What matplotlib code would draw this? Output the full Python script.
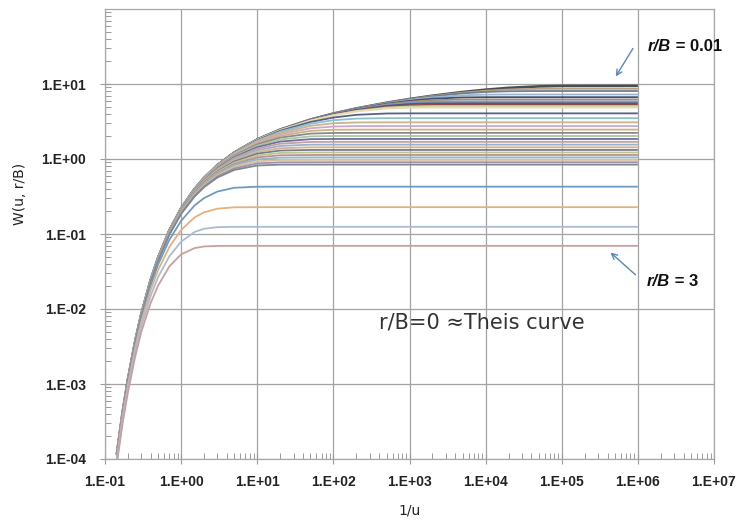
import numpy as np
import matplotlib
matplotlib.use("Agg")
import matplotlib.pyplot as plt
from matplotlib.ticker import FuncFormatter, LogLocator, NullFormatter

# Hantush leaky-aquifer well function W(u, r/B), tabulated against 1/u
inv_u = [0.143, 0.17, 0.2, 0.25, 0.3, 0.4, 0.5, 0.7, 1, 1.5, 2, 3, 5, 10, 20, 50, 100,
         200, 500, 1e3, 2e3, 5e3, 1e4, 2e4, 5e4, 1e5, 1e6]

r_over_b = [0.01, 0.015, 0.02, 0.03, 0.04, 0.05, 0.06, 0.07, 0.08, 0.09, 0.1,
            0.15, 0.2, 0.25, 0.3, 0.35, 0.4, 0.45, 0.5, 0.55, 0.6, 0.65, 0.7,
            0.75, 0.8, 0.85, 0.9, 0.95, 1.0, 1.5, 2.0, 2.5, 3.0]

w_table = [
    [1.155e-4, 4.14e-4, 1.148e-3, 3.779e-3, 8.60e-3, 0.02491, 0.04890, 0.1113, 0.2194, 0.3985, 0.5598, 0.8290, 1.2227, 1.8229, 2.4679, 3.354, 4.036, 4.721, 5.627, 6.306, 6.975, 7.819, 8.398, 8.883, 9.296, 9.418, 9.4425],
    [1.155e-4, 4.14e-4, 1.148e-3, 3.779e-3, 8.60e-3, 0.02491, 0.04890, 0.1113, 0.2194, 0.3985, 0.5598, 0.8290, 1.2227, 1.8227, 2.4670, 3.352, 4.033, 4.715, 5.610, 6.276, 6.915, 7.678, 8.140, 8.453, 8.615, 8.631, 8.632],
    [1.155e-4, 4.14e-4, 1.148e-3, 3.779e-3, 8.60e-3, 0.02491, 0.04890, 0.1113, 0.2194, 0.3985, 0.5597, 0.8288, 1.2224, 1.8222, 2.4663, 3.350, 4.028, 4.707, 5.591, 6.235, 6.834, 7.497, 7.838, 8.008, 8.056, 8.057, 8.057],
    [1.155e-4, 4.14e-4, 1.148e-3, 3.779e-3, 8.60e-3, 0.02491, 0.04889, 0.1113, 0.2193, 0.3984, 0.5596, 0.8286, 1.2220, 1.8213, 2.4640, 3.344, 4.017, 4.683, 5.532, 6.120, 6.622, 7.068, 7.212, 7.245, 7.247, 7.247, 7.247],
    [1.155e-4, 4.14e-4, 1.148e-3, 3.779e-3, 8.60e-3, 0.02490, 0.04888, 0.1113, 0.2193, 0.3983, 0.5594, 0.8285, 1.2216, 1.8200, 2.4613, 3.336, 4.000, 4.650, 5.452, 5.971, 6.363, 6.624, 6.669, 6.673, 6.673, 6.673, 6.673],
    [1.155e-4, 4.14e-4, 1.148e-3, 3.778e-3, 8.60e-3, 0.02490, 0.04887, 0.1112, 0.2193, 0.3982, 0.5594, 0.8282, 1.2209, 1.8184, 2.4576, 3.326, 3.980, 4.609, 5.354, 5.796, 6.082, 6.217, 6.228, 6.2285, 6.2285, 6.2285, 6.2285],
    [1.155e-4, 4.14e-4, 1.148e-3, 3.777e-3, 8.60e-3, 0.02490, 0.04886, 0.1112, 0.2192, 0.3981, 0.5592, 0.8278, 1.2201, 1.8164, 2.4530, 3.314, 3.955, 4.559, 5.241, 5.606, 5.801, 5.864, 5.866, 5.866, 5.866, 5.866, 5.866],
    [1.155e-4, 4.14e-4, 1.148e-3, 3.777e-3, 8.59e-3, 0.02489, 0.04885, 0.1112, 0.2192, 0.3980, 0.5590, 0.8274, 1.2192, 1.8141, 2.4477, 3.300, 3.925, 4.502, 5.117, 5.407, 5.533, 5.559, 5.5596, 5.5596, 5.5596, 5.5596, 5.5596],
    [1.155e-4, 4.14e-4, 1.148e-3, 3.777e-3, 8.59e-3, 0.02489, 0.04884, 0.1111, 0.2191, 0.3979, 0.5588, 0.8269, 1.2181, 1.8114, 2.4415, 3.283, 3.892, 4.439, 4.985, 5.209, 5.285, 5.295, 5.295, 5.295, 5.295, 5.295, 5.295],
    [1.155e-4, 4.14e-4, 1.148e-3, 3.777e-3, 8.59e-3, 0.02489, 0.04883, 0.1111, 0.2191, 0.3977, 0.5585, 0.8263, 1.2169, 1.8083, 2.4346, 3.265, 3.855, 4.370, 4.848, 5.015, 5.058, 5.062, 5.062, 5.062, 5.062, 5.062, 5.062],
    [1.155e-4, 4.13e-4, 1.148e-3, 3.777e-3, 8.59e-3, 0.02489, 0.04885, 0.1112, 0.2190, 0.3976, 0.5582, 0.8257, 1.2155, 1.8049, 2.4268, 3.244, 3.815, 4.296, 4.708, 4.829, 4.853, 4.854, 4.854, 4.854, 4.854, 4.854, 4.854],
    [1.154e-4, 4.13e-4, 1.147e-3, 3.774e-3, 8.59e-3, 0.02487, 0.04879, 0.1110, 0.2186, 0.3964, 0.5561, 0.8216, 1.2066, 1.7827, 2.3779, 3.116, 3.571, 3.882, 4.044, 4.0595, 4.060, 4.060, 4.060, 4.060, 4.060, 4.060, 4.060],
    [1.153e-4, 4.12e-4, 1.146e-3, 3.771e-3, 8.58e-3, 0.02483, 0.04871, 0.1107, 0.2179, 0.3948, 0.5533, 0.8159, 1.1943, 1.7521, 2.3111, 2.952, 3.288, 3.457, 3.504, 3.505, 3.505, 3.505, 3.505, 3.505, 3.505, 3.505, 3.505],
    [1.153e-4, 4.12e-4, 1.145e-3, 3.767e-3, 8.57e-3, 0.02479, 0.04861, 0.1104, 0.2171, 0.3927, 0.5497, 0.8086, 1.1786, 1.7153, 2.2299, 2.766, 2.993, 3.072, 3.083, 3.083, 3.083, 3.083, 3.083, 3.083, 3.083, 3.083, 3.083],
    [1.152e-4, 4.12e-4, 1.144e-3, 3.761e-3, 8.55e-3, 0.02473, 0.04848, 0.1100, 0.2161, 0.3902, 0.5453, 0.7998, 1.1597, 1.6707, 2.1371, 2.569, 2.710, 2.743, 2.745, 2.745, 2.745, 2.745, 2.745, 2.745, 2.745, 2.745, 2.745],
    [1.150e-4, 4.11e-4, 1.142e-3, 3.755e-3, 8.54e-3, 0.02467, 0.04833, 0.1096, 0.2149, 0.3873, 0.5402, 0.7895, 1.1378, 1.6202, 2.0353, 2.371, 2.453, 2.465, 2.465, 2.465, 2.465, 2.465, 2.465, 2.465, 2.465, 2.465, 2.465],
    [1.149e-4, 4.11e-4, 1.140e-3, 3.747e-3, 8.52e-3, 0.02460, 0.04815, 0.1091, 0.2135, 0.3839, 0.5343, 0.7778, 1.1130, 1.5646, 1.9284, 2.181, 2.225, 2.229, 2.229, 2.229, 2.229, 2.229, 2.229, 2.229, 2.229, 2.229, 2.229],
    [1.148e-4, 4.10e-4, 1.138e-3, 3.739e-3, 8.49e-3, 0.02451, 0.04796, 0.1085, 0.2120, 0.3801, 0.5277, 0.7648, 1.0886, 1.5050, 1.8182, 2.002, 2.025, 2.026, 2.026, 2.026, 2.026, 2.026, 2.026, 2.026, 2.026, 2.026, 2.026],
    [1.146e-4, 4.09e-4, 1.136e-3, 3.729e-3, 8.47e-3, 0.02442, 0.04774, 0.1078, 0.2103, 0.3759, 0.5205, 0.7504, 1.0601, 1.4417, 1.7075, 1.838, 1.8485, 1.849, 1.849, 1.849, 1.849, 1.849, 1.849, 1.849, 1.849, 1.849, 1.849],
    [1.144e-4, 4.08e-4, 1.133e-3, 3.719e-3, 8.44e-3, 0.02432, 0.04750, 0.1071, 0.2084, 0.3714, 0.5126, 0.7349, 1.0292, 1.3771, 1.5984, 1.688, 1.693, 1.693, 1.693, 1.693, 1.693, 1.693, 1.693, 1.693, 1.693, 1.693, 1.693],
    [1.142e-4, 4.08e-4, 1.130e-3, 3.708e-3, 8.41e-3, 0.02421, 0.04724, 0.1063, 0.2064, 0.3664, 0.5041, 0.7183, 0.9969, 1.3115, 1.4927, 1.553, 1.555, 1.555, 1.555, 1.555, 1.555, 1.555, 1.555, 1.555, 1.555, 1.555, 1.555],
    [1.139e-4, 4.07e-4, 1.127e-3, 3.695e-3, 8.38e-3, 0.02409, 0.04696, 0.1055, 0.2043, 0.3611, 0.4949, 0.7006, 0.9623, 1.2450, 1.3913, 1.431, 1.432, 1.432, 1.432, 1.432, 1.432, 1.432, 1.432, 1.432, 1.432, 1.432, 1.432],
    [1.137e-4, 4.06e-4, 1.124e-3, 3.682e-3, 8.35e-3, 0.02396, 0.04665, 0.1046, 0.2019, 0.3555, 0.4853, 0.6840, 0.9285, 1.1790, 1.2954, 1.3207, 1.321, 1.321, 1.321, 1.321, 1.321, 1.321, 1.321, 1.321, 1.321, 1.321, 1.321],
    [1.134e-4, 4.04e-4, 1.120e-3, 3.668e-3, 8.31e-3, 0.02382, 0.04633, 0.1036, 0.1995, 0.3495, 0.4751, 0.6681, 0.8935, 1.1137, 1.2052, 1.2211, 1.2212, 1.2212, 1.2212, 1.2212, 1.2212, 1.2212, 1.2212, 1.2212, 1.2212, 1.2212, 1.2212],
    [1.132e-4, 4.03e-4, 1.116e-3, 3.653e-3, 8.27e-3, 0.02367, 0.04599, 0.1026, 0.1969, 0.3433, 0.4645, 0.6480, 0.8578, 1.0505, 1.1210, 1.1307, 1.1307, 1.1307, 1.1307, 1.1307, 1.1307, 1.1307, 1.1307, 1.1307, 1.1307, 1.1307, 1.1307],
    [1.129e-4, 4.02e-4, 1.112e-3, 3.637e-3, 8.23e-3, 0.02352, 0.04562, 0.1015, 0.1941, 0.3367, 0.4535, 0.6273, 0.8218, 0.9890, 1.0427, 1.0485, 1.0485, 1.0485, 1.0485, 1.0485, 1.0485, 1.0485, 1.0485, 1.0485, 1.0485, 1.0485, 1.0485],
    [1.125e-4, 4.01e-4, 1.108e-3, 3.620e-3, 8.19e-3, 0.02336, 0.04524, 0.1004, 0.1913, 0.3298, 0.4421, 0.6080, 0.7860, 0.9297, 0.9701, 0.9735, 0.9735, 0.9735, 0.9735, 0.9735, 0.9735, 0.9735, 0.9735, 0.9735, 0.9735, 0.9735, 0.9735],
    [1.122e-4, 3.99e-4, 1.104e-3, 3.603e-3, 8.14e-3, 0.02319, 0.04484, 0.0992, 0.1883, 0.3229, 0.4303, 0.5871, 0.7498, 0.8729, 0.9029, 0.9049, 0.9049, 0.9049, 0.9049, 0.9049, 0.9049, 0.9049, 0.9049, 0.9049, 0.9049, 0.9049, 0.9049],
    [1.119e-4, 3.98e-4, 1.099e-3, 3.584e-3, 8.09e-3, 0.02301, 0.04442, 0.0980, 0.1852, 0.3157, 0.4210, 0.5664, 0.7149, 0.8190, 0.8409, 0.8420, 0.8420, 0.8420, 0.8420, 0.8420, 0.8420, 0.8420, 0.8420, 0.8420, 0.8420, 0.8420, 0.8420],
    [1.075e-4, 3.80e-4, 1.041e-3, 3.355e-3, 7.50e-3, 0.02083, 0.03940, 0.08363, 0.1499, 0.2400, 0.3012, 0.3684, 0.4135, 0.4271, 0.4276, 0.4276, 0.4276, 0.4276, 0.4276, 0.4276, 0.4276, 0.4276, 0.4276, 0.4276, 0.4276, 0.4276, 0.4276],
    [1.016e-4, 3.56e-4, 9.65e-4, 3.058e-3, 6.74e-3, 0.01812, 0.03330, 0.0670, 0.1130, 0.1664, 0.1945, 0.2178, 0.2268, 0.2278, 0.2278, 0.2278, 0.2278, 0.2278, 0.2278, 0.2278, 0.2278, 0.2278, 0.2278, 0.2278, 0.2278, 0.2278, 0.2278],
    [9.46e-5, 3.27e-4, 8.75e-4, 2.715e-3, 5.87e-3, 0.01516, 0.02684, 0.0503, 0.0790, 0.1065, 0.1173, 0.1234, 0.1246, 0.1247, 0.1247, 0.1247, 0.1247, 0.1247, 0.1247, 0.1247, 0.1247, 0.1247, 0.1247, 0.1247, 0.1247, 0.1247, 0.1247],
    [8.66e-5, 2.95e-4, 7.76e-4, 2.347e-3, 4.97e-3, 0.01218, 0.02061, 0.0370, 0.0535, 0.0648, 0.0682, 0.0694, 0.0695, 0.0695, 0.0695, 0.0695, 0.0695, 0.0695, 0.0695, 0.0695, 0.0695, 0.0695, 0.0695, 0.0695, 0.0695, 0.0695, 0.0695],
]

# one colour per r/B curve, soft spreadsheet-like tones
line_colors = ['#4b4b5a', '#b9a37a', '#6f7f8f', '#9fb5cf', '#3c4f79', '#a88f5f',
               '#7c9cc8', '#4f5a82', '#8c4a4a', '#c7d6a0', '#e8dcb0', '#5a5f8a',
               '#8cc0d0', '#c8b48a', '#c9a9c9', '#d0b080', '#8a8a8a', '#a9c7a0',
               '#6f6f9f', '#c4a0a0', '#9ab0d0', '#d4b48c', '#7a7a8c', '#b8c890',
               '#c09090', '#90b8c8', '#d8c098', '#a090b0', '#808890', '#6e9cc0',
               '#e6b07e', '#a8bcd6', '#c8a0a0']

fig = plt.figure(figsize=(7.39, 5.27), dpi=100)
ax = fig.add_axes([105 / 739, 1 - 459 / 527, 609 / 739, 450 / 527])

for k in range(len(r_over_b)):
    lw = 1.9 if k == 0 else 1.3
    ax.plot(inv_u, w_table[k], color=line_colors[k], lw=lw, solid_capstyle='butt')

ax.set_xscale('log')
ax.set_yscale('log')
ax.set_xlim(0.1, 1e7)
ax.set_ylim(1e-4, 1e2)

ax.set_xticks([10.0 ** p for p in range(-1, 8)])
ax.set_yticks([10.0 ** p for p in range(-4, 2)])
ax.xaxis.set_minor_locator(LogLocator(base=10, subs=np.arange(2, 10)))
ax.yaxis.set_minor_locator(LogLocator(base=10, subs=np.arange(2, 10)))
ax.xaxis.set_minor_formatter(NullFormatter())
ax.yaxis.set_minor_formatter(NullFormatter())

sci = FuncFormatter(lambda v, pos: '1.E%+03d' % int(round(np.log10(v))))
ax.xaxis.set_major_formatter(sci)
ax.yaxis.set_major_formatter(sci)

ax.grid(True, which='major', color='#a3a3a3', lw=0.9)
ax.set_axisbelow(True)
for sp in ax.spines.values():
    sp.set_color('#a8a8a8')
    sp.set_linewidth(0.9)

ax.tick_params(which='major', direction='inout', length=7, width=0.8, color='#9a9a9a',
               labelsize=10, labelcolor='#222222')
ax.tick_params(which='minor', direction='in', length=4, width=0.7, color='#9a9a9a')
ax.tick_params(axis='x', which='major', pad=8)
ax.tick_params(axis='y', which='major', pad=10)
for lab in ax.get_xticklabels() + ax.get_yticklabels():
    lab.set_fontweight('bold')
    lab.set_fontfamily('Liberation Sans')

ax.set_xlabel('1/u', fontsize=10, color='#222222')
ax.set_ylabel('W(u, r/B)', fontsize=10, color='#222222')
ax.xaxis.set_label_coords(0.5, -0.098)
ax.yaxis.set_label_coords(-0.128, 0.589)

ax.text(400, 6.7e-3, 'r/B=0 \u2248Theis curve', fontsize=15, color='#333333',
        va='center', ha='left')

# arrows to the first and last r/B curves
arrow_kw = dict(arrowstyle='->', color='#5b86b8', lw=1.0)
ax.annotate('', xy=(4.9e5, 11.7), xytext=(9.0e5, 32), arrowprops=arrow_kw)
ax.annotate('', xy=(4.1e5, 0.060), xytext=(9.9e5, 0.027), arrowprops=arrow_kw)

t1 = ax.text(1.34e6, 32, 'r/B', fontsize=12, fontweight='bold', style='italic',
             family='Liberation Sans', va='center', ha='left', color='#111111')
ax.annotate(' = 0.01', xy=(1, 0.5), xycoords=t1, va='center', ha='left',
            fontsize=12, fontweight='bold', family='Liberation Sans', color='#111111')
t2 = ax.text(1.3e6, 0.0231, 'r/B', fontsize=12, fontweight='bold', style='italic',
             family='Liberation Sans', va='center', ha='left', color='#111111')
ax.annotate(' = 3', xy=(1, 0.5), xycoords=t2, va='center', ha='left',
            fontsize=12, fontweight='bold', family='Liberation Sans', color='#111111')

fig.savefig('out.png', dpi=100)
